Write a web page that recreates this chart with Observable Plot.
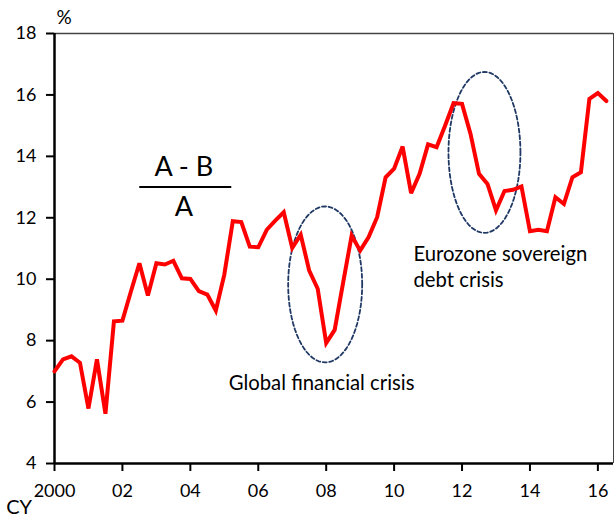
<!DOCTYPE html>
<html>
<head>
<meta charset="utf-8">
<script src="https://cdn.jsdelivr.net/npm/d3@7"></script>
<script src="https://cdn.jsdelivr.net/npm/@observablehq/plot@0.6"></script>
<style>
  html, body { margin: 0; padding: 0; background: #fff; }
  #chart svg { display: block; font-family: Lato, "Open Sans", sans-serif; }
</style>
</head>
<body>
<div id="chart"></div>
<script>
// Quarterly series, 2000Q1 .. 2016Q2, ratio (A - B) / A in %
const startYear = 2000;
const values = [
  7.00, 7.39, 7.49, 7.28,
  5.79, 7.39, 5.62, 8.63,
  8.65, 9.60, 10.52, 9.47,
  10.52, 10.48, 10.60, 10.03,
  10.01, 9.61, 9.50, 8.98,
  10.15, 11.89, 11.86, 11.06,
  11.04, 11.61, 11.91, 12.18,
  11.02, 11.45, 10.28, 9.69,
  7.92, 8.35, 9.90, 11.42,
  10.93, 11.37, 12.02, 13.32,
  13.60, 14.32, 12.80, 13.43,
  14.39, 14.30, 15.00, 15.73,
  15.71, 14.73, 13.43, 13.10,
  12.24, 12.87, 12.91, 13.02,
  11.56, 11.61, 11.56, 12.67,
  12.45, 13.32, 13.48, 15.87,
  16.06, 15.80
];
const xTicks = [2000, 2002, 2004, 2006, 2008, 2010, 2012, 2014, 2016];
const xTickLabels = ["2000", "02", "04", "06", "08", "10", "12", "14", "16"];
const yTicks = [4, 6, 8, 10, 12, 14, 16, 18];

// Annotation ellipses (centre & radii in data units)
const ellipses = [
  {name: "gfc", cx: 2007.97, cy: 9.83, rx: 1.09, ry: 2.54},
  {name: "euro", cx: 2012.66, cy: 14.13, rx: 1.06, ry: 2.62}
];
const labels = [
  {x: 2005.13, y: 6.6, text: "Global financial crisis"},
  {x: 2010.57, y: 10.8, text: "Eurozone sovereign"},
  {x: 2010.57, y: 9.96, text: "debt crisis"}
];

const series = values.map((v, i) => ({t: startYear + i / 4, v}));
const ellipsePts = ellipses.flatMap(e =>
  d3.range(0, 73).map(k => {
    const a = (k / 72) * 2 * Math.PI;
    return {name: e.name, x: e.cx + e.rx * Math.cos(a), y: e.cy + e.ry * Math.sin(a)};
  })
);
const xMax = 2016.46;

const chart = Plot.plot({
  width: 614,
  height: 518,
  marginLeft: 54,
  marginRight: 1,
  marginTop: 33,
  marginBottom: 55,
  style: {fontFamily: "Lato, 'Open Sans', sans-serif", background: "#fff", color: "#000"},
  x: {domain: [startYear, xMax]},
  y: {domain: [4, 18]},
  marks: [
    // frame: top and right thin, left and bottom thick
    Plot.ruleY([18], {stroke: "#444", strokeWidth: 1.3}),
    Plot.ruleX([xMax], {stroke: "#444", strokeWidth: 1}),
    Plot.axisY({ticks: yTicks, tickSize: 8, tickPadding: 10, tickFormat: d => d, fontSize: 18, label: null, stroke: "#000", strokeWidth: 2}),
    Plot.axisX({ticks: xTicks, tickSize: 8, tickPadding: 13, tickFormat: d => xTickLabels[xTicks.indexOf(d)], fontSize: 18, label: null, stroke: "#000", strokeWidth: 2}),
    Plot.ruleX([startYear], {stroke: "#000", strokeWidth: 2.5}),
    Plot.ruleY([4], {stroke: "#000", strokeWidth: 2.5}),
    // ellipses
    Plot.line(ellipsePts, {x: "x", y: "y", z: "name", stroke: "#1f3864", strokeWidth: 1.8, strokeDasharray: "4,2.6"}),
    // series
    Plot.line(series, {x: "t", y: "v", stroke: "#ff0000", strokeWidth: 4, strokeLinejoin: "miter", strokeMiterlimit: 3}),
    // fraction
    Plot.text(["A - B"], {x: 2003.81, y: 13.65, text: d => d, fontSize: 27, fill: "#000"}),
    Plot.ruleY([13.0], {x1: 2002.51, x2: 2005.22, stroke: "#000", strokeWidth: 2}),
    Plot.text(["A"], {x: 2003.81, y: 12.34, text: d => d, fontSize: 27, fill: "#000"}),
    // crisis labels
    Plot.text(labels, {x: "x", y: "y", text: "text", textAnchor: "start", fontSize: 20.3, fill: "#000"}),
    // unit & CY
    Plot.text(["%"], {x: 2000.28, y: 18.52, text: d => d, fontSize: 19, fill: "#000"}),
    Plot.text(["CY"], {x: 1998.96, y: 2.55, text: d => d, fontSize: 20, fill: "#000"})
  ]
});
document.getElementById("chart").append(chart);
</script>
</body>
</html>
